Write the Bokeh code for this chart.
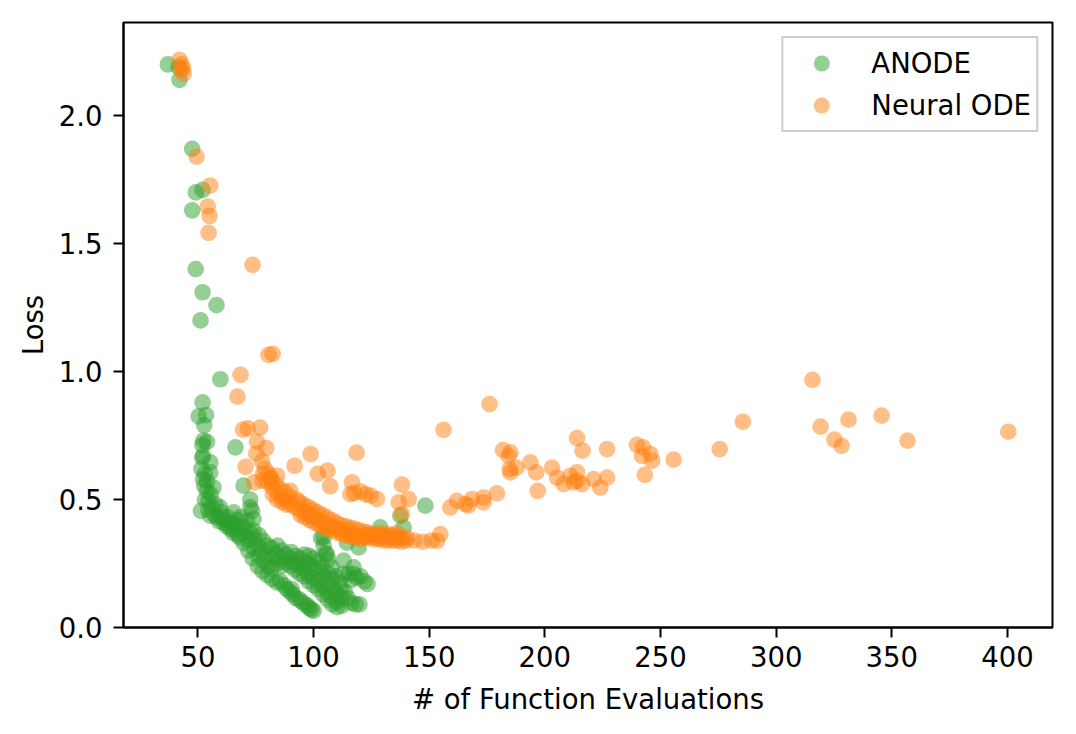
from bokeh.plotting import figure
from bokeh.models import FixedTicker, NumeralTickFormatter, Range1d
from bokeh.embed import file_html
from bokeh.resources import INLINE

# ---------------- data ----------------
series_labels = ["ANODE", "Neural ODE"]
x_ticks = [50, 100, 150, 200, 250, 300, 350, 400]
y_ticks = [0.0, 0.5, 1.0, 1.5, 2.0]

anode_x = [
    37.0, 42.0, 41.6,
    47.5, 49.1, 52.0, 47.5,
    49.0, 52.0, 58.0, 51.1,
    59.7, 52.0, 50.3, 53.5, 52.7,
    52.3, 53.9, 51.9, 66.2,
    52.2, 51.9, 55.3, 51.5, 55.3, 53.0, 52.2, 54.0,
    52.7, 53.9, 56.7, 69.7, 55.5, 53.0,
    54.6, 57.5, 59.6, 51.3, 56.0, 54.5, 55.3,
    72.6, 72.6, 73.4,
    65.4, 68.3, 71.2, 74.0,
    57.2, 58.3, 59.1, 60.4, 61.2, 62.0, 62.4, 63.3, 64.1, 64.5, 65.2, 66.1, 66.6, 67.3, 60.0, 63.0, 67.4,
    68.2, 68.6, 69.8, 70.3, 70.1,
    71.8, 72.2, 72.5,
    73.7, 74.1, 74.4, 73.9,
    75.8, 76.2, 76.1, 76.4,
    77.9, 78.3, 77.8, 78.1,
    80.0, 80.3, 79.7, 80.2,
    82.1, 81.8, 82.3, 81.9,
    84.2, 84.0, 83.8, 84.4,
    85.6, 87.2, 88.4, 89.7, 91.0, 92.3, 93.8, 95.0, 96.3, 97.4, 98.2, 99.2, 100.0, 90.5,
    86.1, 85.9, 86.3, 88.0, 88.2, 90.1, 89.8, 90.3,
    92.0, 91.8, 92.2, 94.1, 93.9, 94.2,
    96.0, 95.8, 96.2, 96.1,
    98.0, 97.8, 98.3, 98.1,
    100.1, 99.8, 100.3, 100.0,
    102.0, 101.8, 102.2, 102.4,
    104.1, 103.9, 104.3, 103.8,
    106.0, 105.8, 106.2, 106.4,
    108.1, 107.9, 108.3, 108.0,
    110.2, 110.0, 109.8,
    112.1, 112.3, 111.9,
    103.2, 104.3, 105.1, 106.3, 107.8, 109.6, 111.4, 113.5, 114.8, 116.4, 118.2, 119.8,
    113.0, 115.1, 117.2, 118.6, 120.3, 122.0, 123.3, 116.2, 117.3, 113.0,
    104.3, 105.8, 114.4, 119.5, 128.8, 137.5, 138.9, 148.3,
]
anode_y = [
    2.20, 2.14, 2.19,
    1.87, 1.70, 1.71, 1.63,
    1.40, 1.31, 1.26, 1.20,
    0.97, 0.88, 0.825, 0.83, 0.79,
    0.73, 0.725, 0.713, 0.704,
    0.671, 0.663, 0.645, 0.62, 0.606, 0.60, 0.58, 0.57,
    0.554, 0.534, 0.547, 0.554, 0.52, 0.50,
    0.495, 0.482, 0.469, 0.456, 0.47, 0.46, 0.437,
    0.50, 0.469, 0.456,
    0.450, 0.430, 0.417, 0.424,
    0.44, 0.43, 0.415, 0.43, 0.41, 0.42, 0.395, 0.40, 0.385, 0.41, 0.37, 0.38, 0.40, 0.36, 0.45, 0.43, 0.42,
    0.35, 0.39, 0.33, 0.36, 0.39,
    0.30, 0.34, 0.37,
    0.27, 0.31, 0.35, 0.38,
    0.24, 0.28, 0.32, 0.36,
    0.22, 0.26, 0.30, 0.34,
    0.205, 0.24, 0.28, 0.32,
    0.19, 0.23, 0.27, 0.31,
    0.175, 0.25, 0.29, 0.32,
    0.18, 0.165, 0.15, 0.14, 0.13, 0.115, 0.11, 0.10, 0.09, 0.085, 0.075, 0.07, 0.065, 0.15,
    0.24, 0.27, 0.30, 0.255, 0.285, 0.24, 0.27, 0.295,
    0.225, 0.25, 0.28, 0.21, 0.24, 0.27,
    0.20, 0.23, 0.255, 0.285,
    0.18, 0.21, 0.245, 0.28,
    0.165, 0.195, 0.235, 0.27,
    0.15, 0.18, 0.22, 0.26,
    0.13, 0.16, 0.20, 0.235,
    0.11, 0.14, 0.175, 0.21,
    0.09, 0.12, 0.155, 0.19,
    0.08, 0.10, 0.135,
    0.085, 0.115, 0.15,
    0.35, 0.32, 0.29, 0.265, 0.235, 0.20, 0.175, 0.14, 0.115, 0.095, 0.09, 0.09,
    0.21, 0.21, 0.21, 0.195, 0.20, 0.18, 0.17, 0.185, 0.235, 0.261,
    0.352, 0.287, 0.332, 0.313, 0.391, 0.437, 0.391, 0.476,
]

node_x = [
    42.0, 42.6, 43.8, 43.0, 43.5,
    49.4, 55.3, 54.2, 55.0, 54.6,
    73.6, 80.5, 82.3, 68.4, 67.1,
    69.5, 71.6, 76.9, 75.5, 79.5, 75.2, 77.7, 70.6,
    91.8, 98.7, 118.6, 101.8, 106.0, 107.2,
    74.4, 78.0, 81.3, 84.2,
    116.6, 115.9, 117.6, 120.4, 122.5, 124.7, 127.4,
    138.2, 141.1, 136.8, 138.2,
    156.2, 154.8, 153.4, 151.0, 147.2, 143.5,
    159.1, 162.0, 165.6, 167.0, 168.5, 173.5, 173.5, 179.3,
    176.1, 181.9, 185.1, 184.3, 187.7, 185.1, 184.8,
    193.7, 196.3, 196.9,
    203.1, 205.3, 208.1, 211.0, 213.9, 213.9, 216.1, 212.5, 221.1, 224.0, 226.9,
    213.9, 216.3, 226.9,
    239.8, 242.5, 242.0, 245.6, 246.4, 243.2, 255.7,
    275.6, 285.6,
    315.7, 319.2, 325.2, 328.3, 331.3, 345.6, 356.8, 400.4,
    78.2, 78.9,
    80.1, 80.6,
    82.0, 81.7, 82.4,
    84.0, 83.6, 84.3,
    86.1, 85.8, 86.4,
    88.0, 87.6, 88.3,
    90.1, 89.7, 89.9,
    92.0, 92.8,
    94.1, 93.8, 94.3,
    96.0, 95.7, 96.3,
    98.1, 97.8, 98.4,
    100.0, 99.7, 100.3,
    102.1, 101.8, 102.4,
    104.0, 103.7, 104.2,
    106.1, 105.8, 106.3,
    108.0, 107.7, 108.2,
    110.1, 109.8, 110.3,
    112.0, 111.7, 112.4,
    114.1, 113.8, 114.3,
    116.0, 115.7, 116.3,
    118.1, 117.8, 118.3,
    120.0, 119.7, 120.4,
    122.1, 121.8, 122.3,
    124.0, 123.7, 124.4,
    126.1, 125.8, 126.3,
    128.0, 127.7, 128.4,
    130.1, 129.8, 130.2,
    132.0, 131.7, 132.3,
    134.1, 133.8, 134.3,
    136.0, 135.7, 136.2,
    138.1, 137.8,
    140.0, 140.4,
]
node_y = [
    2.218, 2.179, 2.163, 2.20, 2.185,
    1.84, 1.727, 1.645, 1.608, 1.542,
    1.417, 1.065, 1.069, 0.987, 0.902,
    0.773, 0.778, 0.781, 0.726, 0.701, 0.68, 0.649, 0.628,
    0.632, 0.678, 0.683, 0.600, 0.613, 0.552,
    0.567, 0.573, 0.586, 0.593,
    0.567, 0.521, 0.525, 0.531, 0.52, 0.515, 0.502,
    0.558, 0.502, 0.489, 0.443,
    0.772, 0.365, 0.339, 0.34, 0.335, 0.34,
    0.469, 0.495, 0.482, 0.476, 0.502, 0.489, 0.508, 0.524,
    0.873, 0.693, 0.684, 0.671, 0.625, 0.606, 0.619,
    0.645, 0.606, 0.534,
    0.625, 0.586, 0.560, 0.593, 0.606, 0.573, 0.560, 0.567, 0.580, 0.547, 0.586,
    0.740, 0.691, 0.697,
    0.714, 0.704, 0.671, 0.678, 0.652, 0.596, 0.656,
    0.697, 0.804,
    0.968, 0.785, 0.734, 0.710, 0.812, 0.828, 0.730, 0.765,
    0.60, 0.62,
    0.57, 0.60,
    0.55, 0.58, 0.52,
    0.53, 0.56, 0.50,
    0.51, 0.54, 0.49,
    0.50, 0.53, 0.48,
    0.48, 0.51, 0.534,
    0.47, 0.50,
    0.46, 0.49, 0.44,
    0.45, 0.48, 0.43,
    0.44, 0.47, 0.42,
    0.43, 0.46, 0.41,
    0.42, 0.45, 0.40,
    0.41, 0.44, 0.39,
    0.40, 0.43, 0.385,
    0.395, 0.42, 0.38,
    0.385, 0.41, 0.37,
    0.38, 0.40, 0.365,
    0.37, 0.395, 0.36,
    0.365, 0.39, 0.355,
    0.36, 0.385, 0.35,
    0.355, 0.38, 0.345,
    0.35, 0.375, 0.36,
    0.35, 0.37, 0.36,
    0.345, 0.365, 0.355,
    0.345, 0.36, 0.37,
    0.34, 0.355, 0.365,
    0.34, 0.355, 0.365,
    0.34, 0.35, 0.36,
    0.34, 0.355, 0.37,
    0.335, 0.35,
    0.34, 0.35,
]

# ---------------- figure ----------------
FONT = "DejaVu Sans"
FS = "27.5px"

p = figure(
    frame_width=929, frame_height=605,
    min_border_left=123, min_border_right=8,
    min_border_top=22, min_border_bottom=91,
    x_range=Range1d(17.8, 419.5), y_range=Range1d(0, 2.364),
    output_backend="svg", toolbar_location=None,
)
p.background_fill_color = "white"
p.border_fill_color = "white"
p.grid.visible = False
p.outline_line_color = "black"
p.outline_line_width = 2

p.scatter(anode_x, anode_y, size=16.7, fill_color="#2ca02c", fill_alpha=0.5,
          line_color=None, legend_label=series_labels[0])
p.scatter(node_x, node_y, size=16.7, fill_color="#ff7f0e", fill_alpha=0.5,
          line_color=None, legend_label=series_labels[1])

p.xaxis.ticker = FixedTicker(ticks=x_ticks)
p.yaxis.ticker = FixedTicker(ticks=y_ticks)
p.yaxis.formatter = NumeralTickFormatter(format="0.0")
p.xaxis.axis_label = "# of Function Evaluations"
p.yaxis.axis_label = "Loss"

for ax in (p.xaxis, p.yaxis):
    ax.axis_line_width = 2
    ax.axis_line_color = "black"
    ax.major_tick_line_width = 2
    ax.major_tick_line_color = "black"
    ax.major_tick_out = 10
    ax.major_tick_in = 0
    ax.minor_tick_line_color = None
    ax.major_label_text_font = FONT
    ax.major_label_text_font_size = FS
    ax.major_label_text_color = "black"
    ax.axis_label_text_font = FONT
    ax.axis_label_text_font_size = FS
    ax.axis_label_text_font_style = "normal"
    ax.axis_label_text_color = "black"

p.xaxis.major_label_standoff = 8
p.xaxis.axis_label_standoff = 13
p.yaxis.major_label_standoff = 11
p.yaxis.axis_label_standoff = 7

lg = p.legend[0]
lg.location = "top_right"
lg.margin = 14
lg.padding = 5
lg.spacing = 2
lg.glyph_width = 66
lg.glyph_height = 40
lg.label_standoff = 17
lg.label_text_font = FONT
lg.label_text_font_size = FS
lg.label_text_color = "black"
lg.border_line_color = "#cccccc"
lg.border_line_width = 2
lg.border_line_alpha = 1.0
lg.background_fill_color = "white"
lg.background_fill_alpha = 0.8

open("out.html", "w").write(file_html(p, INLINE))
